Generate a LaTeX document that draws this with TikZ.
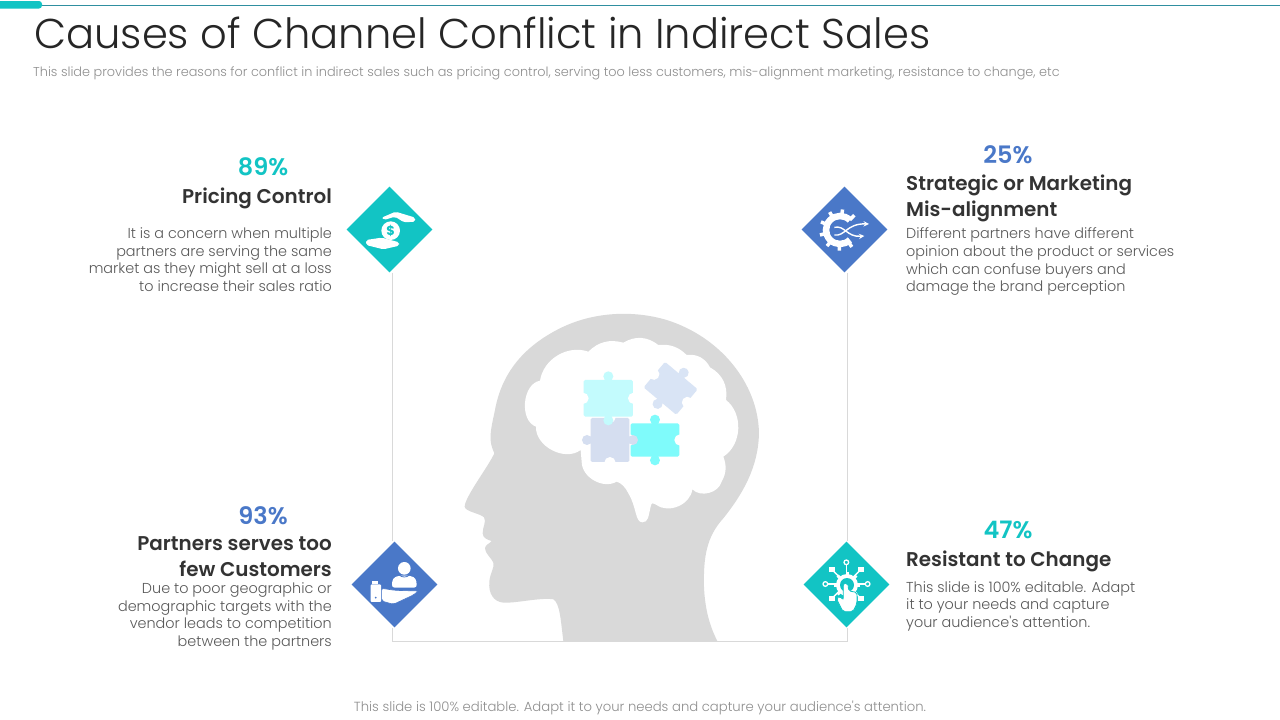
\documentclass[tikz,border=0pt]{standalone}
\usepackage{fontspec}
\setmainfont{Poppins}
\newfontfamily\lightfont{Poppins Light}
\newfontfamily\headfont{Poppins SemiBold}
\usetikzlibrary{shapes.geometric}
\definecolor{tealmark}{HTML}{12C4C4}
\definecolor{bluemark}{HTML}{4A78C8}
\definecolor{headgrey}{HTML}{D9D9D9}
\definecolor{bodygrey}{HTML}{595959}
\definecolor{notegrey}{HTML}{8F8F8F}
\definecolor{headdark}{HTML}{333333}
\definecolor{topline}{HTML}{2F8FA0}
\definecolor{piecepale}{HTML}{C3FBFD}
\definecolor{piecebright}{HTML}{7FFBFB}
\definecolor{pieceslate}{HTML}{D5DEF0}
\definecolor{pieceblue}{HTML}{D9E4F5}
\newcommand{\puzzlepiece}[6]{
  \begin{scope}[shift={(#1,#2)},rotate=#3]
    \fill[#4,rounded corners=1.5pt] (-#5,-#6) rectangle (#5,#6);
    \fill[#4] (-10,-#6-4) rectangle (10,-#6+2) (-10,#6-2) rectangle (10,#6+4);
    \fill[#4] (0,-#6-11) circle[radius=15] (0,#6+11) circle[radius=15];
    \fill[white] (-#5-2,0) circle[radius=17] (#5+2,0) circle[radius=17];
  \end{scope}
}
\begin{document}
\begin{tikzpicture}[x=1pt,y=-1pt,
                    crop/.style 2 args={shift={(#1,#2)},x=.3333pt,y=-.3333pt},
                    markbox/.style={shape=diamond, minimum width=86pt, minimum height=86pt, inner sep=0pt, fill=#1},
                    percent/.style={font=\headfont\fontsize{24}{28}\selectfont, text=#1, inner sep=0pt},
                    heading/.style={font=\headfont\fontsize{19.9}{26}\selectfont, text=headdark, inner sep=0pt},
                    body/.style={font=\lightfont\fontsize{14.4}{17.7}\selectfont, text=bodygrey, inner sep=0pt},
                    note/.style={font=\lightfont\fontsize{12.85}{15}\selectfont, text=notegrey, inner sep=0pt},
                    frameline/.style={draw=headgrey, line width=.7pt},
                    iconline/.style={draw=white, line width=1.4pt}]

  \useasboundingbox (0,0) rectangle (1280,720);
  \fill[white] (0,0) rectangle (1280,720);

  \draw[draw=topline, line width=1pt] (40,5.5) -- (1280,5.5);
  \fill[tealmark, rounded corners=3pt] (-6,1) rectangle (42,8.5);

  \node[anchor=base west, inner sep=0pt, font=\lightfont\fontsize{41.65}{48}\selectfont, text=black!85] (title) at (34,48) {Causes of Channel Conflict in Indirect Sales};
  \node[note, anchor=base west] (subtitle) at (33,76) {This slide provides the reasons for conflict in indirect sales such as pricing control, serving too less customers, mis-alignment marketing, resistance to change, etc};
  \node[note, anchor=base, font=\lightfont\fontsize{13.2}{15}\selectfont] (footer) at (640,711) {This slide is 100\% editable. Adapt it to your needs and capture your audience's attention.};

  \coordinate (cornerleft) at (392,641);
  \coordinate (cornerright) at (847,641);

  \node[markbox=tealmark] (pricing) at (389.5,229.5) {};
  \node[markbox=bluemark] (strategic) at (844.5,229.5) {};
  \node[markbox=bluemark] (partners) at (394.5,584.5) {};
  \node[markbox=tealmark] (resistant) at (846.5,584.5) {};

  \draw[frameline] (pricing.south -| cornerleft) -- (partners.north -| cornerleft);
  \draw[frameline] (strategic.south -| cornerright) -- (resistant.north -| cornerright);
  \draw[frameline] (partners.south -| cornerleft) -- (cornerleft) -- (cornerright) -- (resistant.south -| cornerright);

  \begin{scope}[crop={460}{310}]
    \fill[headgrey] (310,993) .. controls (302,930) and (300,880) .. (280,868)
      .. controls (240,862) and (170,880) .. (130,878)
      .. controls (100,875) and (85,850) .. (88,815)
      .. controls (90,790) and (105,770) .. (100,758)
      .. controls (95,745) and (75,730) .. (75,715)
      .. controls (75,705) and (90,700) .. (95,693)
      .. controls (85,690) and (68,685) .. (68,670)
      .. controls (68,650) and (80,635) .. (72,622)
      .. controls (60,610) and (15,605) .. (14,590)
      .. controls (15,560) and (85,470) .. (103,430)
      .. controls (85,390) and (90,370) .. (105,300)
      .. controls (125,190) and (190,110) .. (300,55)
      .. controls (400,5) and (520,0) .. (620,30)
      .. controls (780,80) and (895,220) .. (897,370)
      .. controls (895,470) and (850,550) .. (790,625)
      .. controls (740,680) and (730,740) .. (732,830)
      .. controls (735,900) and (750,950) .. (772,993) -- cycle;
    \fill[white] (228,350) to[bend left=75] (240,212) to[bend left=50] (385,125)
      to[bend left=30] (490,98) to[bend left=35] (595,105) to[bend left=25] (680,135)
      to[bend left=35] (750,172) to[bend left=35] (798,270) to[bend left=55] (790,440)
      to[bend left=25] (785,515) to[bend left=60] (697,538) to[bend left=60] (590,585)
      .. controls (578,580) and (575,575) .. (572,590)
      .. controls (565,620) and (565,637) .. (547,637)
      .. controls (525,637) and (530,590) .. (505,550)
      .. controls (495,530) and (485,520) .. (470,515)
      to[bend left=60] (365,455) -- (362,420) to[bend left=65] (228,350) -- cycle;
    \puzzlepiece{585}{390}{0}{piecebright}{73}{50}
    \puzzlepiece{450}{390}{90}{pieceslate}{66}{58}
    \puzzlepiece{445}{265}{0}{piecepale}{74}{55}
    \puzzlepiece{632}{235}{-40}{pieceblue}{64}{50}
  \end{scope}

  \begin{scope}[crop={340}{180}]
    \fill[white] (152,152) circle[radius=28];
    \node[text=tealmark, inner sep=0pt, font=\fontsize{13}{13}\selectfont\bfseries] (dollar) at (152,152) {\$};
    \fill[white, rounded corners=2pt] (125,113) -- (167,95) -- (226,113) -- (226,125) -- (192,127) -- (165,110) -- (132,120) -- cycle;
    \fill[white, rounded corners=2pt] (78,180) -- (125,173) -- (178,187) -- (178,197) -- (130,208) -- (78,195) -- cycle;
  \end{scope}

  \begin{scope}[crop={795}{180}]
    \draw[draw=white, line width=6.5pt] (135,150) ++(45:42) arc[start angle=45, end angle=315, radius=42];
    \foreach \gearangle in {55,92,129,166,203,240,277,314}
      \draw[draw=white, line width=3.5pt] (135,150) ++(\gearangle:42) -- ++(\gearangle:20);
    \draw[iconline, -stealth] (118,142) .. controls (150,135) and (155,172) .. (208,168);
    \draw[iconline, -stealth] (118,165) .. controls (150,170) and (155,130) .. (222,132);
  \end{scope}

  \begin{scope}[crop={345}{535}]
    \fill[white] (178,100) circle[radius=19];
    \fill[white, rounded corners=3pt] (140,158) -- (143,130) -- (160,122) -- (196,122) -- (213,130) -- (216,158) -- cycle;
    \draw[draw=bluemark, line width=.8pt] (163,120) .. controls (170,128) and (186,128) .. (193,120);
    \fill[white, draw=bluemark, line width=.6pt, rounded corners=2pt] (110,160) -- (150,166) -- (220,168) -- (205,180) -- (145,208) -- (110,198) -- cycle;
    \fill[white, rounded corners=1pt] (77,148) rectangle (108,201);
    \fill[white] (82,138) rectangle (100,148);
    \fill[bluemark] (92,188) circle[radius=3];
  \end{scope}

  \begin{scope}[crop={797}{535}]
    \foreach \rayangle/\raylen in {90/62,45/60,135/60,0/60,180/60,-45/60,225/60}
      \draw[iconline] (148,147) -- ++(\rayangle:-\raylen);
    \foreach \nodepos in {(148,82),(85,147),(212,147)}
      \draw[draw=white, fill=tealmark, line width=1.3pt] \nodepos circle[radius=7];
    \foreach \nodepos in {(105,103),(192,103),(105,190),(192,190)}
      \fill[white] \nodepos ++(-8,-8) rectangle ++(16,16);
    \foreach \gearangle in {0,45,...,315}
      \draw[draw=white, line width=3pt] (150,150) -- ++(\gearangle:40);
    \fill[white] (150,150) circle[radius=33];
    \fill[tealmark] (150,150) circle[radius=21];
    \fill[white, draw=tealmark, line width=.8pt, rounded corners=2pt] (139,145) -- (153,145) -- (155,168) -- (180,172) -- (180,205) -- (168,230) -- (138,230) -- (118,190) -- (128,183) -- (139,195) -- cycle;
  \end{scope}

  \node[percent=tealmark] (pricingvalue) at (263,167) {89\%};
  \node[heading, anchor=east] (pricinghead) at (332,198) {Pricing Control};
  \node[body, anchor=north east, align=right] (pricingtext) at (332,227.5) {It is a concern when multiple\\partners are serving the same\\market as they might sell at a loss\\to increase their sales ratio};

  \node[percent=bluemark] (strategicvalue) at (1008,155) {25\%};
  \node[heading, anchor=north west, align=left] (strategichead) at (906,175) {Strategic or Marketing\\Mis-alignment};
  \node[body, anchor=north west, align=left] (strategictext) at (906,227.5) {Different partners have different\\opinion about the product or services\\which can confuse buyers and\\damage the brand perception};

  \node[percent=bluemark] (partnersvalue) at (263,516) {93\%};
  \node[heading, anchor=north east, align=right] (partnershead) at (332,536) {Partners serves too\\few Customers};
  \node[body, anchor=north east, align=right] (partnerstext) at (332,582.5) {Due to poor geographic or\\demographic targets with the\\vendor leads to competition\\between the partners};

  \node[percent=tealmark] (resistantvalue) at (1008,530) {47\%};
  \node[heading, anchor=west] (resistanthead) at (906,561) {Resistant to Change};
  \node[body, anchor=north west, align=left] (resistanttext) at (906,581) {This slide is 100\% editable. Adapt\\it to your needs and capture\\your audience's attention.};
\end{tikzpicture}
\end{document}
